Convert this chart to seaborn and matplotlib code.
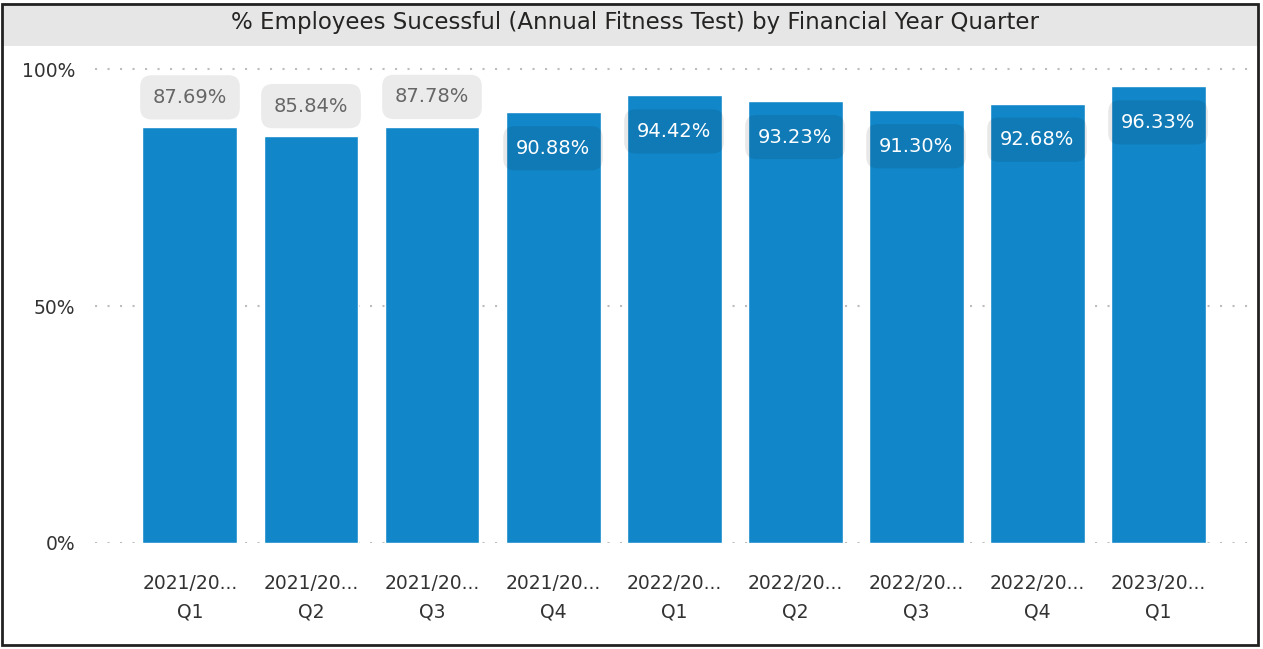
import matplotlib
matplotlib.use("Agg")
import matplotlib.pyplot as plt
from matplotlib.patches import Rectangle
import seaborn as sns
import pandas as pd

# data
years = ["2021/20...", "2021/20...", "2021/20...", "2021/20...",
         "2022/20...", "2022/20...", "2022/20...", "2022/20...", "2023/20..."]
quarters = ["Q1", "Q2", "Q3", "Q4", "Q1", "Q2", "Q3", "Q4", "Q1"]
values = [87.69, 85.84, 87.78, 90.88, 94.42, 93.23, 91.30, 92.68, 96.33]

labels = [y + "\n" + q for y, q in zip(years, quarters)]
df = pd.DataFrame({"period": [str(i) for i in range(len(values))], "pct": [v / 100 for v in values]})

sns.set_theme(style="white")
plt.rcParams['font.family'] = ['DejaVu Sans']

W, H = 1263, 649
fig = plt.figure(figsize=(W / 100, H / 100), dpi=100)
ax = fig.add_axes([95 / W, (H - 543) / H, (1250 - 95) / W, (543 - 60) / H])

sns.barplot(data=df, x="period", y="pct", color="#1187c9", saturation=1,
            width=0.785, ax=ax, zorder=3)

ax.set_xlim(-0.785, 8.76)
ax.set_ylim(0, (543 - 60) / 474)
ax.set_yticks([0, 0.5, 1.0])
ax.set_yticklabels(["0%", "50%", "100%"], fontsize=13.5, color="#333333")
ax.set_xticks(range(len(values)))
ax.set_xticklabels(labels, fontsize=13.5, color="#333333", linespacing=1.65)
ax.tick_params(axis="y", length=0, pad=14)
ax.tick_params(axis="x", length=0, pad=22)
ax.set_xlabel("")
ax.set_ylabel("")
for s in ax.spines.values():
    s.set_visible(False)
for yv in [0, 0.5, 1.0]:
    ax.axhline(yv, color="#bdbdbd", lw=1.5, ls=(0, (1, 5)), zorder=1)

# data labels: above bar for the first three, inside the top for the rest
for i, v in enumerate(values):
    inside = v > 90
    if inside:
        ax.annotate(f"{v:.2f}%", (i, v / 100), xytext=(0, -36), textcoords="offset pixels",
                    ha="center", va="center", fontsize=14, color="white", zorder=5,
                    bbox=dict(boxstyle="round,pad=0.65,rounding_size=0.6", fc=(0, 0, 0, 0.09), ec="none"))
    else:
        ax.annotate(f"{v:.2f}%", (i, v / 100), xytext=(0, 30), textcoords="offset pixels",
                    ha="center", va="center", fontsize=14, color="#666666", zorder=5,
                    bbox=dict(boxstyle="round,pad=0.65,rounding_size=0.6", fc="#ebebeb", ec="none"))

# title band and border
fig.patches.append(Rectangle((3 / W, (H - 46) / H), (1258 - 3) / W, 43 / H,
                             transform=fig.transFigure, fc="#e6e6e6", ec="none", zorder=0))
fig.text(635 / W, (H - 23) / H, "% Employees Sucessful (Annual Fitness Test) by Financial Year Quarter",
         ha="center", va="center", fontsize=16.5, color="#252423")
fig.patches.append(Rectangle((2 / W, 4 / H), (1258 - 2) / W, (645 - 4) / H,
                             transform=fig.transFigure, fc="none", ec="#222222", lw=2, zorder=10))

fig.savefig("out.png", dpi=100)
